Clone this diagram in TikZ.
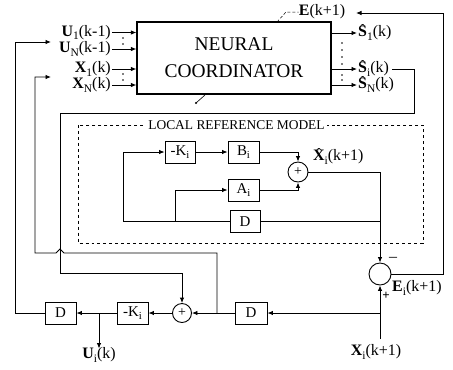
\documentclass[tikz,border=0pt]{standalone}
\usepackage{fontspec}
\usepackage{graphicx}
\setmainfont{Liberation Serif}
\usetikzlibrary{arrows.meta}
\newcommand{\sbs}[1]{\raisebox{-0.22em}{\scalebox{0.72}{#1}}}
\newcommand{\hatb}[1]{{\ooalign{\textbf{#1}\cr\hidewidth\smash{\raisebox{0.14em}{\scalebox{0.9}{ˆ}}}\hidewidth\cr}}}
\tikzset{
  lbl/.style={inner sep=0pt, font=\fontsize{16}{16}\selectfont},
  blk/.style={draw, line width=0.9bp, minimum width=31bp, minimum height=22bp, inner sep=0pt, font=\fontsize{15}{15}\selectfont},
  sumc/.style={draw, circle, line width=0.9bp, minimum size=19bp, inner sep=0pt, font=\fontsize{14}{14}\selectfont},
  conn/.style={line width=0.9bp},
  arr/.style={conn, -{Latex[length=5.5bp,width=4.5bp]}},
}
\begin{document}
\begin{tikzpicture}[x=1bp,y=-1bp]
\useasboundingbox (0,0) rectangle (453,369);

% neural coordinator
\node[draw, line width=1.2bp, minimum width=194bp, minimum height=72bp, inner sep=0pt,
      align=center, font=\fontsize{19.5}{27}\selectfont] (nc) at (234,58) {NEURAL\\COORDINATOR};

% inputs
\node[lbl, anchor=east] (u1) at (111,32.5) {\textbf{U}\sbs{1}(k-1)};
\node[lbl, anchor=east] (un) at (111,49) {\textbf{U}\sbs{N}(k-1)};
\node[lbl, anchor=east] (x1) at (111,69) {\textbf{X}\sbs{1}(k)};
\node[lbl, anchor=east] (xn) at (111,85) {\textbf{X}\sbs{N}(k)};
\foreach \n in {u1,un,x1,xn}{\draw[arr] ([xshift=1bp]\n.east) -- (\n.east -| nc.west);}
\foreach \yy in {38,44,74,80}{\fill (123,\yy) circle (0.9);}

% outputs
\node[lbl, anchor=west] (s1o) at (358,33) {\hatb{S}\sbs{1}(k)};
\node[lbl, anchor=west] (sio) at (358,69) {\hatb{S}\sbs{i}(k)};
\node[lbl, anchor=west] (sno) at (358,85) {\hatb{S}\sbs{N}(k)};
\foreach \n in {s1o,sio,sno}{\draw[arr] (\n.west -| nc.east) -- ([xshift=-1bp]\n.west);}
\foreach \yy in {43,50,57,64,75,80}{\fill (342,\yy) circle (0.9);}

% E(k+1)
\node[lbl] (el) at (322,12) {\textbf{E}(k+1)};
\draw[densely dashed, line width=0.5bp] (277,22) -- (286,12) -- (el.west);
\coordinate (etip) at (356,13);

% tick below coordinator
\draw[line width=0.6bp] (205,95) -- (196,103);
\fill (196,103) circle (1.2);

% local reference model
\draw[dashed, line width=0.6bp] (78,125) rectangle (423,243);
\node[fill=white, inner xsep=2bp, inner ysep=1bp, font=\fontsize{13.5}{13.5}\selectfont] (lrm) at (236.5,125) {LOCAL REFERENCE MODEL};
\node[blk, minimum width=30bp] (k1) at (180,152) {-K\sbs{i}};
\node[blk] (b1) at (243.5,152) {B\sbs{i}};
\node[blk] (a1) at (243.5,190) {A\sbs{i}};
\node[blk, minimum width=30bp] (dl) at (245,221.5) {D};
\node[sumc, minimum size=20bp] (s1) at (298,172) {+};
\node[lbl, anchor=west] (xh) at (313,157) {\hatb{X}\sbs{i}(k+1)};

\draw[arr] (dl.west) -- (123,221.5) -- (123,152) -- (k1.west);
\draw[arr] (175,221.5) -- (175,190) -- (a1.west);
\draw[arr] (k1) -- (b1);
\draw[arr] (b1.east) -| (s1.north);
\draw[arr] (a1.east) -| (s1.south);

% error summation
\node[sumc, minimum size=22bp] (ec) at (380,274) {};
\node[lbl] (mn) at (393,259) {–};
\node[lbl, font=\fontsize{13}{13}\selectfont\bfseries] (pl) at (386,296) {+};
\node[lbl, anchor=west] (eil) at (392,288) {\textbf{E}\sbs{i}(k+1)};
\draw[arr] (s1.east) -| (ec.north);
\draw[conn] (dl.east) -- (dl.east -| ec.north);
\draw[arr] (ec.east) -| (443,13) -- (etip);

% bottom row
\node[lbl] (xk1) at (376,352) {\textbf{X}\sbs{i}(k+1)};
\coordinate (xin) at (380,339);
\draw[arr] (xin) -- (ec.south);
\node[blk, minimum width=32bp] (d2) at (251,313) {D};
\node[sumc] (s2) at (182,313) {+};
\node[blk] (k2) at (132.5,313) {-K\sbs{i}};
\node[blk] (d1) at (60.5,313) {D};
\draw[arr] (xin |- d2) -- (d2.east);
\draw[arr] (d2) -- (s2);
\draw[arr] (s2) -- (k2);
\draw[arr] (k2) -- (d1);
\node[lbl] (uik) at (99,355) {\textbf{U}\sbs{i}(k)};
\draw[arr] (uik.north |- d1) -- ([yshift=-1bp]uik.north);

% feedback lines
\coordinate (uin) at (51,42);
\coordinate (xinn) at (51,77);
\draw[arr] (d1.west) -- (15,313) -- (15,42) -- (uin);
\draw[arr] (217,313) -- (217,253) -- (64,253) -- (60,249) -- (56,253) -- (35,253) -- (35,77) -- (xinn);
\draw[arr] ([xshift=3bp]sio.east) -| (414,113) -| (60,273) -| (s2.north);
\end{tikzpicture}
\end{document}
